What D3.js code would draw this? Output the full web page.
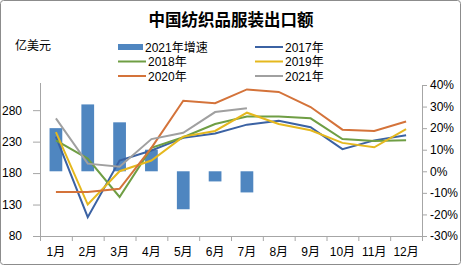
<!DOCTYPE html>
<html lang="zh">
<head>
<meta charset="UTF-8">
<title>中国纺织品服装出口额</title>
<script src="https://d3js.org/d3.v7.min.js"></script>
<style>
body { margin: 0; background: #fff; }
svg { display: block; font-family: "Liberation Sans", Arial, sans-serif; }
</style>
</head>
<body>
<svg></svg>
<script>
const months = ["1月","2月","3月","4月","5月","6月","7月","8月","9月","10月","11月","12月"];
// 2021 growth rate, %
const growth2021 = [20, 31, 22.7, 10, -17.6, -4.7, -9.8];
// export value, 100 million USD
const s2017 = [238, 110, 200, 216, 236, 243, 257, 263, 253, 218, 232, 240];
const s2018 = [232, 203, 142, 220, 237, 258, 270, 270, 267, 234, 231, 232];
const s2019 = [245, 130, 183, 200, 238, 247, 276, 258, 248, 228, 221, 250];
const s2020 = [150, 150, 155, 220, 295, 291, 313, 309, 285, 249, 247, 262];
const s2021 = [267, 195, 190, 234, 244, 277, 283];
const leftTicks = [80, 130, 180, 230, 280];
const rightTicks = [-30, -20, -10, 0, 10, 20, 30, 40];

const width = 461, height = 265;
const svg = d3.select("svg").attr("width", width).attr("height", height);

svg.append("rect")
  .attr("x", 0.5).attr("y", 0.5)
  .attr("width", width - 1).attr("height", height - 1)
  .attr("rx", 3)
  .attr("fill", "#fff").attr("stroke", "#8c8c8c");

const x = d3.scaleBand().domain(months).range([40, 422]);
const y = d3.scaleLinear().domain([80, 320]).range([236, 85]);
const yr = d3.scaleLinear().domain([-30, 40]).range([236, 85]);

// title
svg.append("text")
  .attr("x", 231).attr("y", 26)
  .attr("text-anchor", "middle")
  .attr("font-family", "'Noto Sans CJK SC', sans-serif")
  .attr("font-weight", "bold")
  .attr("font-size", 16.5)
  .text("中国纺织品服装出口额");

svg.append("text")
  .attr("x", 15).attr("y", 50)
  .attr("font-family", "'Noto Sans CJK SC', sans-serif")
  .attr("font-size", 12)
  .text("亿美元");

// axes
const axisColor = "#a6a6a6";
const gl = svg.append("g").attr("transform", "translate(40,0)")
  .call(d3.axisLeft(y).tickValues(leftTicks).tickSize(7).tickPadding(11).tickSizeOuter(0));
const gr = svg.append("g").attr("transform", "translate(422,0)")
  .call(d3.axisRight(yr).tickValues(rightTicks).tickSize(5).tickPadding(3).tickSizeOuter(0)
    .tickFormat(d => d + "%"));
const gb = svg.append("g").attr("transform", "translate(0,236)")
  .call(d3.axisBottom(x).tickSize(0).tickPadding(11));

[gl, gr, gb].forEach(g => {
  g.select(".domain").attr("stroke", axisColor);
  g.selectAll(".tick line").attr("stroke", axisColor);
  g.selectAll("text").attr("fill", "#000").attr("font-size", 12)
    .attr("font-family", "'Liberation Sans', 'Noto Sans CJK SC', sans-serif");
});
gl.select(".domain").attr("d", "M0.5,83V236.5");

// category boundary ticks on x axis
svg.append("g").selectAll("line")
  .data(months.concat(["end"]))
  .join("line")
  .attr("x1", (d, i) => 40 + i * x.step() + 0.5)
  .attr("x2", (d, i) => 40 + i * x.step() + 0.5)
  .attr("y1", 236).attr("y2", 241)
  .attr("stroke", axisColor);

// 2021 growth bars
const barW = x.bandwidth() * 0.4;
svg.append("g").selectAll("rect")
  .data(growth2021)
  .join("rect")
  .attr("x", (d, i) => x(months[i]) + (x.bandwidth() - barW) / 2)
  .attr("y", d => yr(Math.max(0, d)))
  .attr("width", barW)
  .attr("height", d => Math.abs(yr(d) - yr(0)))
  .attr("fill", "#4f86c0");

const line = d3.line()
  .x((d, i) => x(months[i]) + x.bandwidth() / 2)
  .y(d => y(d));

const series = [
  { name: "2017年", data: s2017, color: "#3b62a3" },
  { name: "2018年", data: s2018, color: "#6f9e44" },
  { name: "2019年", data: s2019, color: "#e5b81e" },
  { name: "2020年", data: s2020, color: "#d4733a" },
  { name: "2021年", data: s2021, color: "#a0a0a0" }
];

series.forEach(s => {
  svg.append("path")
    .attr("d", line(s.data))
    .attr("fill", "none")
    .attr("stroke", s.color)
    .attr("stroke-width", 2);
});

// legend
const legend = svg.append("g")
  .attr("font-family", "'Liberation Sans', 'Noto Sans CJK SC', sans-serif")
  .attr("font-size", 12);
const items = [
  { name: "2021年增速", color: "#4f86c0", bar: true, col: 0, row: 0 },
  { name: "2017年", color: "#3b62a3", col: 1, row: 0 },
  { name: "2018年", color: "#6f9e44", col: 0, row: 1 },
  { name: "2019年", color: "#e5b81e", col: 1, row: 1 },
  { name: "2020年", color: "#d4733a", col: 0, row: 2 },
  { name: "2021年", color: "#a0a0a0", col: 1, row: 2 }
];
items.forEach(it => {
  const lx = it.col === 0 ? 118 : 255;
  const ly = 47 + it.row * 14.5;
  if (it.bar) {
    legend.append("rect").attr("x", lx).attr("y", ly - 3)
      .attr("width", 25).attr("height", 6).attr("fill", it.color);
  } else {
    legend.append("line").attr("x1", lx).attr("x2", lx + 28)
      .attr("y1", ly).attr("y2", ly)
      .attr("stroke", it.color).attr("stroke-width", 2);
  }
  legend.append("text")
    .attr("x", lx + (it.bar ? 27 : 30)).attr("y", ly + 4.5)
    .text(it.name);
});
</script>
</body>
</html>
